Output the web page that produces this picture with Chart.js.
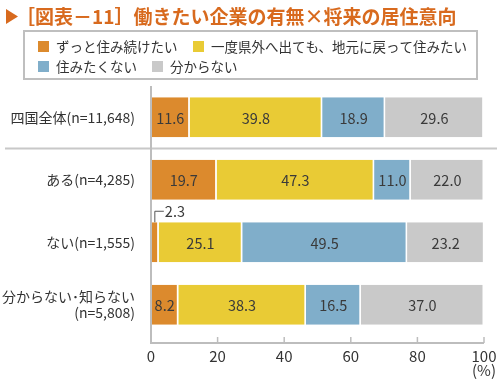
<!DOCTYPE html>
<html>
<head>
<meta charset="utf-8">
<script src="https://cdn.jsdelivr.net/npm/chart.js@4/dist/chart.umd.min.js"></script>
<style>
html,body{margin:0;padding:0;background:#fff;}
#wrap{width:500px;height:382px;position:relative;}
</style>
</head>
<body>
<div id="wrap"><canvas id="c" width="500" height="382"></canvas></div>
<script>
const title = "［図表－11］働きたい企業の有無×将来の居住意向";
const categories = [
  "四国全体(n=11,648)",
  "ある(n=4,285)",
  "ない(n=1,555)",
  ["分からない･知らない", "(n=5,808)"]
];
const seriesNames = ["ずっと住み続けたい", "一度県外へ出ても、地元に戻って住みたい", "住みたくない", "分からない"];
const stayValues   = [11.6, 19.7, 2.3, 8.2];
const returnValues = [39.8, 47.3, 25.1, 38.3];
const leaveValues  = [18.9, 11.0, 49.5, 16.5];
const unknownValues= [29.6, 22.0, 23.2, 37.0];
const xTicks = [0, 20, 40, 60, 80, 100];
const unitLabel = "(%)";

const colors = ["#dc8a2d", "#e9cb35", "#80aeca", "#c9c9c9"];
const FONT = '"Noto Sans CJK JP", "Noto Sans", sans-serif';
Chart.defaults.font.family = FONT;

function seg(ctx, x1, y1, x2, y2) {
  ctx.beginPath(); ctx.moveTo(x1, y1); ctx.lineTo(x2, y2); ctx.stroke();
}

const overlay = {
  id: 'overlay',
  afterDraw(chart) {
    const ctx = chart.ctx;
    const xs = chart.scales.x, ys = chart.scales.y;
    ctx.save();
    // legend frame: grey block with white interior
    ctx.fillStyle = "#bfbfbf";
    ctx.fillRect(23, 30, 455, 50);
    ctx.fillStyle = "#ffffff";
    ctx.fillRect(25, 32, 451, 46);
    // title
    ctx.fillStyle = "#d86a1e";
    ctx.beginPath();
    ctx.moveTo(6, 9); ctx.lineTo(18, 16.5); ctx.lineTo(6, 24); ctx.closePath(); ctx.fill();
    ctx.font = 'bold 19px ' + FONT;
    ctx.textBaseline = 'middle';
    ctx.textAlign = 'left';
    ctx.fillText(title, 16, 17);
    // legend items
    const legendPos = [[38, 46.5], [193, 46.5], [38, 66.5], [152, 66.5]];
    ctx.font = '13.5px ' + FONT;
    chart.data.datasets.forEach((ds, i) => {
      const [lx, ly] = legendPos[i];
      ctx.fillStyle = ds.backgroundColor;
      ctx.fillRect(lx, ly - 5.5, 11, 11);
      ctx.fillStyle = "#333";
      ctx.fillText(ds.label, lx + 18, ly);
    });
    // separator line
    const sepY = (ys.getPixelForValue(0) + ys.getPixelForValue(1)) / 2;
    ctx.strokeStyle = "#c8c8c8";
    ctx.lineWidth = 2;
    seg(ctx, 5, sepY, 497, sepY);
    // axes
    const x0 = xs.getPixelForValue(0), x100 = xs.getPixelForValue(100);
    const axisY = 343;
    ctx.strokeStyle = "#bdbdbd";
    ctx.beginPath(); ctx.moveTo(x0, 86); ctx.lineTo(x0, axisY); ctx.lineTo(x100, axisY); ctx.stroke();
    ctx.lineWidth = 1.5;
    xTicks.forEach(t => {
      if (t === 0) return;
      const px = xs.getPixelForValue(t);
      seg(ctx, px, axisY, px, axisY - 6);
    });
    // unit
    ctx.fillStyle = "#333";
    ctx.font = '15px ' + FONT;
    ctx.textAlign = 'center';
    ctx.fillText(unitLabel, x100, 370);
    // data labels
    ctx.font = '14.5px ' + FONT;
    ctx.fillStyle = "#3a3a3a";
    chart.data.datasets.forEach((ds, di) => {
      const meta = chart.getDatasetMeta(di);
      meta.data.forEach((bar, i) => {
        const v = ds.data[i];
        const txt = v.toFixed(1);
        const w = Math.abs(bar.x - bar.base);
        if (w < 15) {
          const cx = (bar.x + bar.base) / 2;
          const top = bar.y - bar.height / 2;
          ctx.strokeStyle = "#555";
          ctx.lineWidth = 1;
          ctx.beginPath();
          ctx.moveTo(cx, top); ctx.lineTo(cx, top - 11); ctx.lineTo(cx + 9, top - 11);
          ctx.stroke();
          ctx.textAlign = 'left';
          ctx.fillText(txt, cx + 10, top - 11);
        } else {
          ctx.textAlign = 'center';
          ctx.fillText(txt, (bar.x + bar.base) / 2, bar.y + 1);
        }
      });
    });
    ctx.restore();
  }
};

new Chart(document.getElementById('c'), {
  type: 'bar',
  data: {
    labels: categories,
    datasets: [
      { label: seriesNames[0], data: stayValues, backgroundColor: colors[0] },
      { label: seriesNames[1], data: returnValues, backgroundColor: colors[1] },
      { label: seriesNames[2], data: leaveValues, backgroundColor: colors[2] },
      { label: seriesNames[3], data: unknownValues, backgroundColor: colors[3] }
    ].map(d => Object.assign(d, { borderColor: '#ffffff', borderWidth: {left: 0, right: 1.5, top: 0, bottom: 0}, borderSkipped: false, categoryPercentage: 1, barPercentage: 0.64 }))
  },
  options: {
    indexAxis: 'y',
    responsive: false,
    animation: false,
    events: [],
    layout: { padding: { top: 86, right: 16, left: 0, bottom: 0 } },
    plugins: { legend: { display: false }, tooltip: { enabled: false }, title: { display: false } },
    scales: {
      x: {
        stacked: true, min: 0, max: 100,
        afterBuildTicks(s) { s.ticks = xTicks.map(v => ({ value: v })); },
        afterFit(s) { s.height = 46; },
        grid: { display: false },
        border: { display: false },
        ticks: { color: '#333', font: { size: 15, family: FONT }, padding: 3, maxRotation: 0 }
      },
      y: {
        stacked: true,
        afterFit(s) { s.width = 151; },
        grid: { display: false },
        border: { display: false },
        ticks: { color: '#333', font: { size: 14, family: FONT }, padding: 8 }
      }
    }
  },
  plugins: [overlay]
});
</script>
</body>
</html>
